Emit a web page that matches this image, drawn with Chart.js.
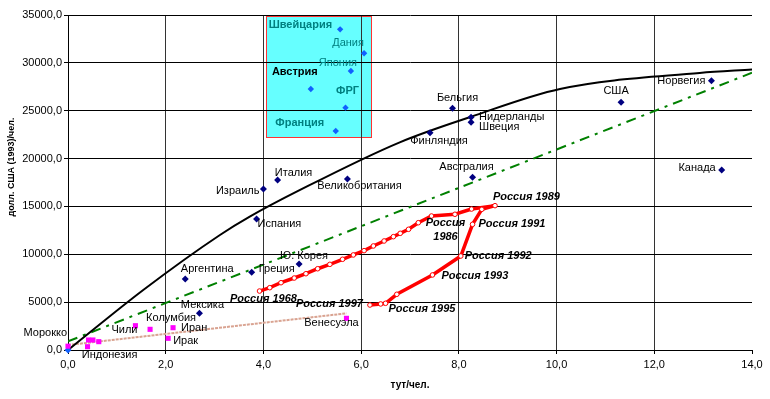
<!DOCTYPE html>
<html><head><meta charset="utf-8">
<script src="https://cdn.jsdelivr.net/npm/chart.js@4/dist/chart.umd.min.js"></script>
<style>html,body{margin:0;padding:0;background:#fff}</style>
</head><body>
<canvas id="c" width="770" height="399"></canvas>
<script>
// развитые страны (тёмно-синие ромбы)
const devNames=['Норвегия','США','Канада','Бельгия','Нидерланды','Швеция','Финляндия','Австралия','Великобритания','Италия','Израиль','Испания','Ю. Корея','Греция','Аргентина','Мексика'];
const devX=[13.17,11.32,13.38,7.87,8.25,8.25,7.41,8.28,5.72,4.29,4.00,3.86,4.73,3.76,2.40,2.69];
const devY=[28140,25880,18810,25250,24310,23790,22700,18040,17870,17760,16820,13690,8990,8120,7420,3830];

// страны в голубой рамке
const boxNames=['Швейцария','Дания','Япония','Австрия','ФРГ','Франция'];
const boxX=[5.57,6.06,5.79,4.97,5.68,5.48];
const boxY=[33500,31000,29150,27270,25320,22880];

// развивающиеся страны (розовые квадраты)
const poorNames=['Морокко','Индонезия','','','','Чили','Колумбия','Иран','Ирак','Венесуэла'];
const poorX=[0.00,0.40,0.42,0.51,0.63,1.38,1.68,2.15,2.05,5.70];
const poorY=[400,345,1045,1045,870,2540,2160,2330,1220,3310];

// Россия 1968-1997
const rusX=[3.92,4.13,4.36,4.63,4.87,5.11,5.36,5.62,5.84,6.06,6.25,6.47,6.66,6.80,6.97,7.17,7.44,7.92,8.26,8.74,8.47,8.28,8.04,7.46,6.73,6.50,6.40,6.18];
const rusY=[6160,6510,7030,7520,7970,8490,8950,9480,9930,10380,10870,11390,11840,12190,12610,13300,14000,14180,14730,15080,14700,13130,9820,7840,5820,4880,4810,4700];
const rusNotes={0:'Россия 1968',16:'Россия|1986',19:'Россия 1989',21:'Россия 1991',22:'Россия 1992',23:'Россия 1993',25:'Россия 1995',27:'Россия 1997'};

// тренды
const curveX=[0,1.54,3.11,3.72,4.75,6.79,8.25,10.07,12.93,14];
const curveY=[0,6270,12015,13930,16720,21700,24370,27270,28940,29300];
const greenX=[0,14], greenY=[900,28970];
const tanX=[0,5.7], tanY=[520,3830];
const originX=[0], originY=[0];

const xTicks=[0,2,4,6,8,10,12,14];
const yTicks=[0,5000,10000,15000,20000,25000,30000,35000];
const boxArea={x0:4.05,x1:6.20,y0:22290,y1:34900};

const pts=(xs,ys)=>xs.map((x,i)=>({x:x,y:ys[i]}));
const F='"Liberation Sans", Arial, sans-serif';

// где ставить подписи: [dx,dy,align]
const devPos=[[-6,0,'right'],[-5,-11,'center'],[-6,-2,'right'],[5,-10,'center'],[8,0,'left'],[8,5,'left'],[9,8,'center'],[-6,-10,'center'],[12,7,'center'],[16,-7,'center'],[-4,2,'right'],[1,5,'left'],[5,-8,'center'],[7,-3,'left'],[22,-10,'center'],[3,-8,'center']];
const boxPos=[[-8,-4,'right'],[-16,-10,'center'],[-13,-8,'center'],[-16,-17,'center'],[2,-17,'center'],[-36,-8,'center']];
const poorPos=[[-1,-13,'right'],[22,8,'center'],null,null,null,[-11,4,'center'],[21,-11,'center'],[8,0,'left'],[5,3,'left'],[-15,5,'center']];
const rusPos={0:[4,8,'center'],16:[14,7,'center'],19:[-2,-9,'left'],21:[6,0,'left'],22:[4,0,'left'],23:[9,1,'left'],25:[3,6,'left'],27:[-7,-1,'right']};

// голубая рамка рисуется до сетки, чтобы линии сетки шли поверх
const boxPlugin={id:'box',beforeDraw(ch){
  const {x,y}=ch.scales, c=ch.ctx;
  const l=Math.round(x.getPixelForValue(boxArea.x0)), r=Math.round(x.getPixelForValue(boxArea.x1));
  const t=Math.round(y.getPixelForValue(boxArea.y1)), b=Math.round(y.getPixelForValue(boxArea.y0));
  c.save();
  c.fillStyle='#66ffff';c.fillRect(l,t,r-l,b-t);
  c.strokeStyle='#ff3333';c.lineWidth=1;c.strokeRect(l+0.5,t+0.5,r-l,b-t);
  c.restore();
}};

function drawNotes(ch,ds,names,pos,fontFn,colorFn){
  const c=ch.ctx, meta=ch.getDatasetMeta(ds);
  Object.keys(pos).forEach(k=>{
    const p=pos[k]; if(!p||!names[k])return;
    const el=meta.data[k]; const lines=names[k].split('|');
    c.font=fontFn(k);c.fillStyle=colorFn(k);c.textAlign=p[2];c.textBaseline='middle';
    lines.forEach((s,j)=>c.fillText(s,el.x+p[0],el.y+p[1]+j*14));
  });
}
const labelPlugin={id:'notes',afterDatasetsDraw(ch){
  const c=ch.ctx;c.save();
  drawNotes(ch,0,devNames,devPos,()=>'11px '+F,()=>'#000');
  drawNotes(ch,1,boxNames,boxPos,k=>([0,3,4,5].includes(+k)?'bold ':'')+'11px '+F,k=>+k===3?'#000':'#008080');
  drawNotes(ch,2,poorNames,poorPos,()=>'11px '+F,()=>'#000');
  drawNotes(ch,4,rusNotes,rusPos,()=>'italic bold 11px '+F,()=>'#000');
  // подпись оси Y
  c.translate(12,167);c.rotate(-Math.PI/2);
  c.font='bold 9px '+F;c.fillStyle='#000';c.textAlign='center';c.textBaseline='middle';
  c.fillText('долл. США (1993)/чел.',0,0);
  c.restore();
}};

const fmt=v=>v.toFixed(1).replace('.',',');

new Chart(document.getElementById('c'),{
  type:'scatter',
  data:{datasets:[
    {data:pts(devX,devY),pointStyle:'rectRot',pointRadius:3.5,backgroundColor:'#000080',borderColor:'#000080',borderWidth:0,clip:false},
    {data:pts(boxX,boxY),pointStyle:'rectRot',pointRadius:3.2,backgroundColor:'#1060ff',borderColor:'#1060ff',borderWidth:0,clip:false},
    {data:pts(poorX,poorY),pointStyle:'rect',pointRadius:3.6,backgroundColor:'#ff00ff',borderColor:'#ff00ff',borderWidth:0,clip:false},
    {data:pts(originX,originY),pointStyle:'rectRot',pointRadius:3.5,backgroundColor:'#1060ff',borderColor:'#1060ff',borderWidth:0,clip:false},
    {data:pts(rusX,rusY),showLine:true,fill:false,borderColor:'#ff0000',borderWidth:3.5,pointRadius:2.3,pointBackgroundColor:'#fff',pointBorderColor:'#ff0000',pointBorderWidth:1,clip:false},
    {data:pts(curveX,curveY),showLine:true,fill:false,borderColor:'#000',borderWidth:2,pointRadius:0,cubicInterpolationMode:'monotone'},
    {data:pts(greenX,greenY),showLine:true,fill:false,borderColor:'#008000',borderWidth:2,borderDash:[10,6,3,6],pointRadius:0},
    {data:pts(tanX,tanY),showLine:true,fill:false,borderColor:'#d9a391',borderWidth:2,borderDash:[3,1],pointRadius:0}
  ]},
  options:{
    responsive:false,animation:false,devicePixelRatio:1,
    layout:{padding:{top:15,right:18,left:0,bottom:0}},
    plugins:{legend:{display:false},tooltip:{enabled:false}},
    scales:{
      x:{type:'linear',min:0,max:14,
        afterBuildTicks:s=>{s.ticks=xTicks.map(v=>({value:v}))},
        ticks:{callback:fmt,color:'#000',font:{family:F,size:11},padding:4,maxRotation:0},
        grid:{color:c=>c.tick&&c.tick.value===14?'rgba(0,0,0,0)':'#333',tickColor:'#000',tickLength:4,lineWidth:1},
        border:{color:'#000',width:1},
        title:{display:true,text:'тут/чел.',color:'#000',font:{family:F,size:10,weight:'bold'},padding:{top:0,bottom:8}},
        afterFit:s=>{s.height=49}},
      y:{type:'linear',min:0,max:35000,
        afterBuildTicks:s=>{s.ticks=yTicks.map(v=>({value:v}))},
        ticks:{callback:fmt,color:'#000',font:{family:F,size:11},padding:2},
        grid:{color:'#000',tickColor:'#000',tickLength:4,lineWidth:1},
        border:{color:'#000',width:1},
        afterFit:s=>{s.width=68}}
    }
  },
  plugins:[boxPlugin,labelPlugin]
});
</script>
</body></html>
